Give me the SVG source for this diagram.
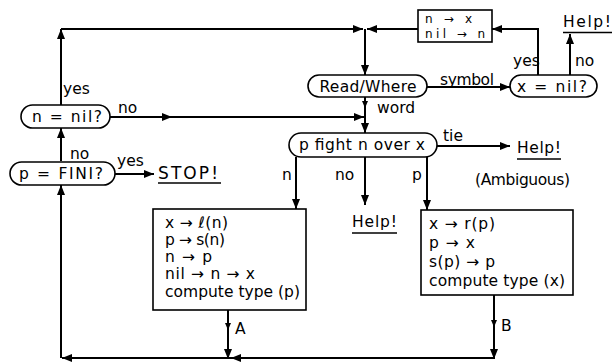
<svg xmlns="http://www.w3.org/2000/svg" width="614" height="364" viewBox="0 0 614 364">
<style>
text{font-family:"DejaVu Sans","Liberation Sans",sans-serif;font-size:15.5px;fill:#000}
.c{text-anchor:middle}
text.s{font-size:12px}
text.big{font-size:17px}
.shape{fill:#fff;stroke:#000;stroke-width:1.6}
.ln{fill:none;stroke:#000;stroke-width:2}
.ul{stroke:#000;stroke-width:1.4}
</style>
<defs>
<marker id="ah" markerUnits="userSpaceOnUse" markerWidth="10" markerHeight="8" refX="10" refY="4" orient="auto">
<path d="M0,0 L10,4 L0,8 z" fill="#000"/>
</marker>
<marker id="sm" markerUnits="userSpaceOnUse" markerWidth="7" markerHeight="6" refX="7" refY="3" orient="auto">
<path d="M0,0 L7,3 L0,6 z" fill="#000"/>
</marker>
</defs>
<rect width="614" height="364" fill="#fff"/>
<g id="connectors">
<path class="ln" d="M61,105 V29" marker-end="url(#ah)"/>
<path class="ln" d="M61,29 H363" marker-end="url(#ah)"/>
<path class="ln" d="M418,29 H367" marker-end="url(#ah)"/>
<path class="ln" d="M365,29 V75" marker-end="url(#ah)"/>
<path class="ln" d="M538,75 V29 H492" marker-end="url(#ah)"/>
<path class="ln" d="M570,75 V34" marker-end="url(#ah)"/>
<path class="ln" d="M427,87 H510" marker-end="url(#ah)"/>
<path class="ln" d="M365,97 V108" marker-end="url(#sm)"/>
<path class="ln" d="M365,106 V133" marker-end="url(#ah)"/>
<path class="ln" d="M110,117 H172" marker-end="url(#ah)"/>
<path class="ln" d="M170,117 H364" marker-end="url(#ah)"/>
<path class="ln" d="M61,161 V128" marker-end="url(#ah)"/>
<path class="ln" d="M115,174 H154" marker-end="url(#ah)"/>
<path class="ln" d="M437,146 H510" marker-end="url(#ah)"/>
<path class="ln" d="M296,157 V209" marker-end="url(#ah)"/>
<path class="ln" d="M365,157 V205" marker-end="url(#ah)"/>
<path class="ln" d="M427,157 V210" marker-end="url(#ah)"/>
<path class="ln" d="M228,310 V330" marker-end="url(#sm)"/>
<path class="ln" d="M228,328 V359" marker-end="url(#ah)"/>
<path class="ln" d="M494,295 V327" marker-end="url(#sm)"/>
<path class="ln" d="M494,325 V359" marker-end="url(#ah)"/>
<path class="ln" d="M494,358 H231" marker-end="url(#ah)"/>
<path class="ln" d="M232,358 H62" marker-end="url(#ah)"/>
<path class="ln" d="M61,358 V185" marker-end="url(#ah)"/>
</g>
<g id="labels">
<text x="63" y="94">yes</text>
<text x="118" y="113">no</text>
<text x="440" y="85" textLength="54" lengthAdjust="spacing">symbol</text>
<text x="513" y="66">yes</text>
<text x="575" y="66">no</text>
<text x="377" y="113">word</text>
<text x="70" y="159">no</text>
<text x="117" y="166">yes</text>
<text x="443" y="141">tie</text>
<text x="282" y="180">n</text>
<text x="335" y="180">no</text>
<text x="412" y="180">p</text>
<text x="235" y="334">A</text>
<text x="501" y="331">B</text>
</g>
<g id="n_to_x">
<rect class="shape" x="418" y="10" width="74" height="32"/>
<text class="s" x="425" y="23" textLength="47" lengthAdjust="spacing">n → x</text>
<text class="s" x="425" y="37.5" textLength="60" lengthAdjust="spacing">nil → n</text>
</g>
<g id="help_top">
<text x="563" y="27" textLength="48" lengthAdjust="spacing">Help!</text>
<line class="ul" x1="563" y1="32.5" x2="612" y2="32.5"/>
</g>
<g id="read_where">
<rect class="shape" x="308" y="75" width="119" height="22" rx="11"/>
<text class="c" x="368" y="92" textLength="97" lengthAdjust="spacing">Read/Where</text>
</g>
<g id="x_nil">
<rect class="shape" x="510" y="75" width="87" height="22" rx="11"/>
<text class="c" x="552" y="92" textLength="70" lengthAdjust="spacing">x = nil?</text>
</g>
<g id="n_nil">
<rect class="shape" x="21" y="105" width="89" height="23" rx="11.5"/>
<text class="c" x="67" y="122" textLength="70" lengthAdjust="spacing">n = nil?</text>
</g>
<g id="p_fini">
<rect class="shape" x="10" y="162" width="105" height="23" rx="11.5"/>
<text class="c" x="61" y="179" textLength="84" lengthAdjust="spacing">p = FINI?</text>
</g>
<g id="stop">
<text class="big" x="158" y="179" textLength="60" lengthAdjust="spacing">STOP!</text>
<line class="ul" x1="158" y1="183" x2="221" y2="183"/>
</g>
<g id="fight">
<rect class="shape" x="289" y="133" width="148" height="24" rx="12"/>
<text class="c" x="362" y="150" textLength="126" lengthAdjust="spacing">p fight n over x</text>
</g>
<g id="help_tie">
<text x="517" y="153" textLength="44" lengthAdjust="spacing">Help!</text>
<line class="ul" x1="517" y1="159" x2="561" y2="159"/>
<text x="475" y="185" textLength="95" lengthAdjust="spacing">(Ambiguous)</text>
</g>
<g id="help_mid">
<text x="352" y="227" textLength="45" lengthAdjust="spacing">Help!</text>
<line class="ul" x1="352" y1="233" x2="397" y2="233"/>
</g>
<g id="box_a">
<rect class="shape" x="153" y="209" width="153" height="101"/>
<text x="165" y="228" textLength="63" lengthAdjust="spacing">x → ℓ(n)</text>
<text x="165" y="245" textLength="60" lengthAdjust="spacing">p → s(n)</text>
<text x="165" y="262" textLength="47" lengthAdjust="spacing">n → p</text>
<text x="165" y="279" textLength="90" lengthAdjust="spacing">nil → n → x</text>
<text x="165" y="297" textLength="135" lengthAdjust="spacing">compute type (p)</text>
</g>
<g id="box_b">
<rect class="shape" x="421" y="210" width="152" height="85"/>
<text x="429" y="229" textLength="66" lengthAdjust="spacing">x → r(p)</text>
<text x="429" y="248" textLength="46" lengthAdjust="spacing">p → x</text>
<text x="429" y="267" textLength="66" lengthAdjust="spacing">s(p) → p</text>
<text x="429" y="286" textLength="136" lengthAdjust="spacing">compute type (x)</text>
</g>
</svg>
